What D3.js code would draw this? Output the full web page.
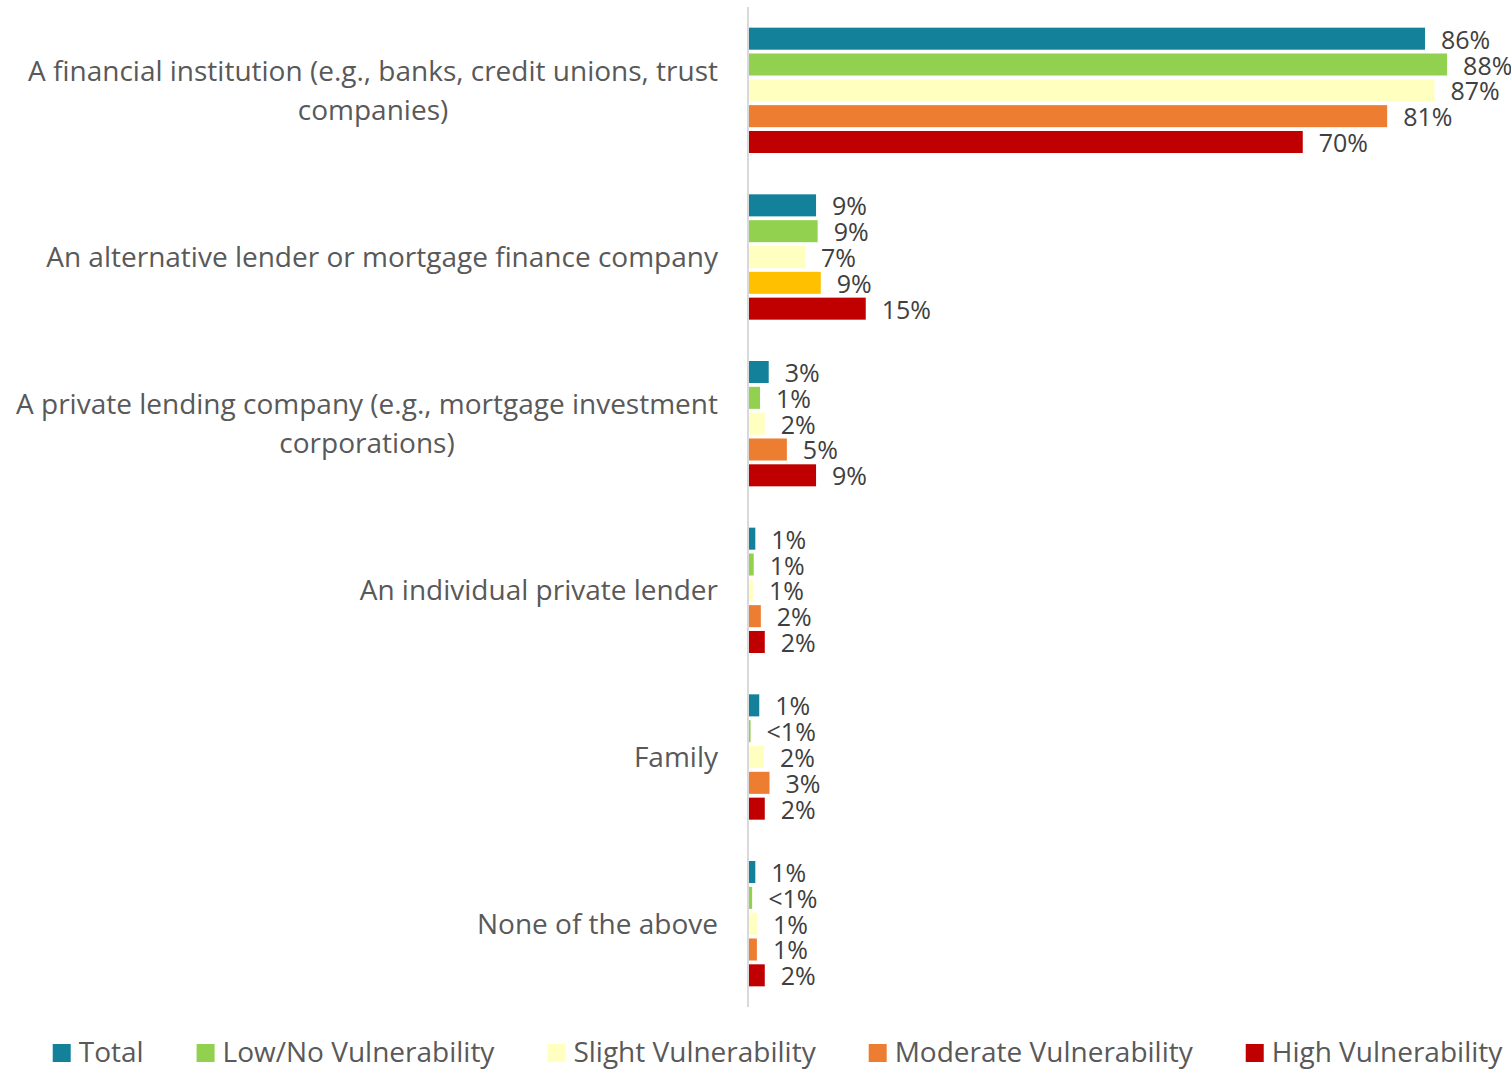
<!DOCTYPE html>
<html>
<head>
<meta charset="utf-8">
<script src="https://cdn.jsdelivr.net/npm/d3@7"></script>
<style>
  html, body { margin: 0; padding: 0; background: #fff; }
  svg { display: block; font-family: "Open Sans", sans-serif; }
</style>
</head>
<body>
<svg id="chart" width="1511" height="1069"></svg>
<script>
// categories (line breaks as shown in the chart)
const categories = [
  ["A financial institution (e.g., banks, credit unions, trust", "companies)"],
  ["An alternative lender or mortgage finance company"],
  ["A private lending company (e.g., mortgage investment", "corporations)"],
  ["An individual private lender"],
  ["Family"],
  ["None of the above"]
];

const seriesNames = ["Total", "Low/No Vulnerability", "Slight Vulnerability", "Moderate Vulnerability", "High Vulnerability"];
const seriesColors = ["#14819b", "#92d050", "#ffffc0", "#ed7d31", "#c00000"];

// bar values (%) per category, in series order
const total    = [85.7, 8.5, 2.5, 0.8, 1.3, 0.8];
const lowNo    = [88.5, 8.7, 1.4, 0.6, 0.2, 0.4];
const slight   = [86.9, 7.1, 2.0, 0.5, 1.9, 1.0];
const moderate = [80.9, 9.1, 4.8, 1.5, 2.6, 1.0];
const high     = [70.2, 14.8, 8.5, 2.0, 2.0, 2.0];

// data labels as printed
const totalLbl    = ["86%", "9%", "3%", "1%", "1%", "1%"];
const lowNoLbl    = ["88%", "9%", "1%", "1%", "<1%", "<1%"];
const slightLbl   = ["87%", "7%", "2%", "1%", "2%", "1%"];
const moderateLbl = ["81%", "9%", "5%", "2%", "3%", "1%"];
const highLbl     = ["70%", "15%", "9%", "2%", "2%", "2%"];

// the moderate bar of the 2nd category is drawn in gold in the original
const pointColorOverride = { "3-1": "#ffc000" };

const values = [total, lowNo, slight, moderate, high];
const labels = [totalLbl, lowNoLbl, slightLbl, moderateLbl, highLbl];

const svg = d3.select("#chart");
const plotLeft = 749, plotRight = 1511, plotTop = 7, plotBottom = 1007;

const x = d3.scaleLinear().domain([0, 96.6]).range([plotLeft, plotRight]);
const y0 = d3.scaleBand().domain(d3.range(categories.length)).range([plotTop, plotBottom]);
const y1 = d3.scaleBand().domain(d3.range(seriesNames.length))
  .range([0, y0.bandwidth()]).paddingInner(0.147).paddingOuter(0.8);

const rows = [];
categories.forEach((c, ci) => {
  seriesNames.forEach((s, si) => {
    rows.push({ ci, si, v: values[si][ci], label: labels[si][ci],
      color: pointColorOverride[si + "-" + ci] || seriesColors[si] });
  });
});

// bars
svg.append("g").selectAll("rect")
  .data(rows)
  .join("rect")
  .attr("x", x(0))
  .attr("y", d => y0(d.ci) + y1(d.si))
  .attr("width", d => x(d.v) - x(0))
  .attr("height", y1.bandwidth())
  .attr("fill", d => d.color);

// value labels
svg.append("g").selectAll("text")
  .data(rows)
  .join("text")
  .attr("x", d => x(d.v) + 16)
  .attr("y", d => y0(d.ci) + y1(d.si) + y1.bandwidth() / 2 + 1)
  .attr("dy", "0.36em")
  .attr("font-size", 25)
  .attr("fill", "#404040")
  .text(d => d.label);

// axis line
svg.append("line")
  .attr("x1", x(0) - 1).attr("x2", x(0) - 1)
  .attr("y1", plotTop).attr("y2", plotBottom)
  .attr("stroke", "#d9d9d9").attr("stroke-width", 2);

// category labels: block right-aligned, lines centred within block
const catG = svg.append("g");
categories.forEach((lines, ci) => {
  const cy = y0(ci) + y0.bandwidth() / 2;
  const lh = 39;
  const tmp = lines.map(l => catG.append("text").attr("font-size", 28).attr("fill", "#595959").text(l));
  const maxW = d3.max(tmp, t => t.node().getComputedTextLength());
  const cx = 718 - maxW / 2;
  tmp.forEach((t, i) => {
    t.attr("x", cx).attr("text-anchor", "middle")
      .attr("y", cy + (i - (lines.length - 1) / 2) * lh)
      .attr("dy", "0.36em");
  });
});

// legend
const legG = svg.append("g");
const items = seriesNames.map((name, i) => {
  const g = legG.append("g");
  g.append("rect").attr("width", 18).attr("height", 18).attr("y", -8).attr("fill", seriesColors[i]);
  const t = g.append("text").attr("x", 26).attr("dy", "0.36em")
    .attr("font-size", 28).attr("fill", "#595959").text(name);
  return { g, w: 26 + t.node().getComputedTextLength() };
});
const gap = 53;
const totalW = d3.sum(items, d => d.w) + gap * (items.length - 1);
let lx = 777.5 - totalW / 2;
items.forEach(it => {
  it.g.attr("transform", `translate(${lx},1052)`);
  lx += it.w + gap;
});
</script>
</body>
</html>
